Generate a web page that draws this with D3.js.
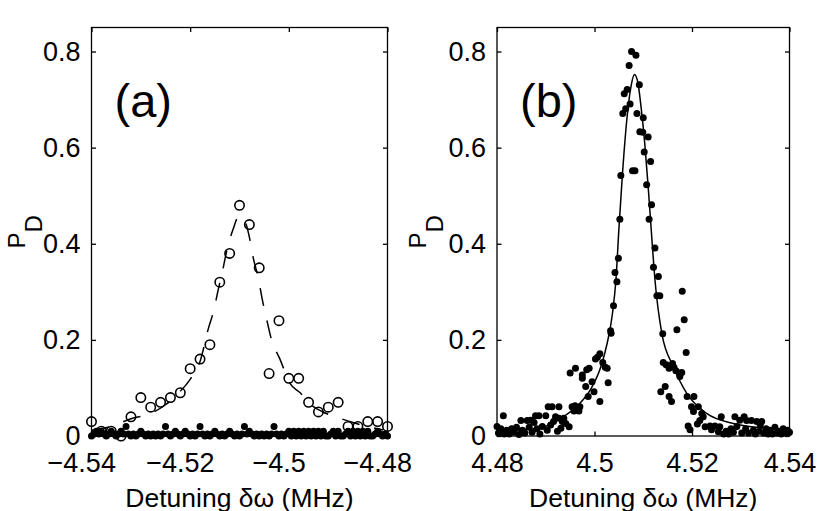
<!DOCTYPE html>
<html>
<head>
<meta charset="utf-8">
<script src="https://cdn.jsdelivr.net/npm/d3@7"></script>
<style>
  html, body { margin: 0; padding: 0; background: #fff; }
  svg text { font-family: "Liberation Sans", Arial, Helvetica, sans-serif; fill: #000; }
</style>
</head>
<body>
<svg id="chart" width="830" height="511"></svg>
<script>
(() => {

// PANEL (a) - open circles (measured)
const aDetuning = [-4.540, -4.538, -4.536, -4.534, -4.532, -4.530, -4.528, -4.526, -4.524, -4.522,
  -4.520, -4.518, -4.516, -4.514, -4.512, -4.510, -4.508, -4.506, -4.504, -4.502,
  -4.500, -4.498, -4.496, -4.494, -4.492, -4.490, -4.488, -4.486, -4.484, -4.482, -4.480];
const aProb = [0.03, 0.01, 0.01, 0.0, 0.04, 0.08, 0.06, 0.07, 0.08, 0.09,
  0.14, 0.16, 0.19, 0.32, 0.38, 0.48, 0.44, 0.35, 0.13, 0.24,
  0.12, 0.12, 0.07, 0.05, 0.06, 0.07, 0.02, 0.02, 0.03, 0.03, 0.02];

// PANEL (a) - filled dots near zero
const aDotDetuning = [
  -4.5400, -4.5395, -4.5390, -4.5385, -4.5380, -4.5375, -4.5370, -4.5365, -4.5360, -4.5355,
  -4.5350, -4.5345, -4.5340, -4.5335, -4.5330, -4.5325, -4.5320, -4.5315, -4.5310, -4.5305,
  -4.5300, -4.5295, -4.5290, -4.5285, -4.5280, -4.5275, -4.5270, -4.5265, -4.5260, -4.5255,
  -4.5250, -4.5245, -4.5240, -4.5235, -4.5230, -4.5225, -4.5220, -4.5215, -4.5210, -4.5205,
  -4.5200, -4.5195, -4.5190, -4.5185, -4.5180, -4.5175, -4.5170, -4.5165, -4.5160, -4.5155,
  -4.5150, -4.5145, -4.5140, -4.5135, -4.5130, -4.5125, -4.5120, -4.5115, -4.5110, -4.5105,
  -4.5100, -4.5095, -4.5090, -4.5085, -4.5080, -4.5075, -4.5070, -4.5065, -4.5060, -4.5055,
  -4.5050, -4.5045, -4.5040, -4.5035, -4.5030, -4.5025, -4.5020, -4.5015, -4.5010, -4.5005,
  -4.5000, -4.4995, -4.4990, -4.4985, -4.4980, -4.4975, -4.4970, -4.4965, -4.4960, -4.4955,
  -4.4950, -4.4945, -4.4940, -4.4935, -4.4930, -4.4925, -4.4920, -4.4915, -4.4910, -4.4905,
  -4.4900, -4.4895, -4.4890, -4.4885, -4.4880, -4.4875, -4.4870, -4.4865, -4.4860, -4.4855,
  -4.4850, -4.4845, -4.4840, -4.4835, -4.4830, -4.4825, -4.4820, -4.4815, -4.4810, -4.4805,
  -4.4800];
const aDotProb = [
  0, 0.004, 0.01, 0.004, 0.01, 0.004, 0, 0.004, 0.01, 0.004,
  0, 0.004, 0.01, 0.004, 0.02, 0.004, 0, 0.004, 0, 0.004,
  0.01, 0.004, 0, 0.004, 0, 0.004, 0, 0.004, 0, 0.004,
  0.02, 0.004, 0, 0.004, 0.01, 0.004, 0, 0.004, 0.01, 0.004,
  0, 0.004, 0, 0.004, 0.02, 0.004, 0, 0.004, 0, 0.004,
  0.01, 0.004, 0, 0.004, 0, 0.004, 0.01, 0.004, 0, 0.004,
  0, 0.004, 0.02, 0.004, 0.01, 0.004, 0, 0.004, 0, 0.004,
  0, 0.004, 0, 0.004, 0.02, 0.004, 0, 0.004, 0, 0.004,
  0.01, 0, 0.01, 0, 0.01, 0, 0.01, 0, 0.01, 0,
  0.01, 0, 0.01, 0, 0.01, 0, 0, 0.004, 0.01, 0,
  0.01, 0, 0, 0.004, 0.01, 0, 0.01, 0, 0.01, 0,
  0.01, 0, 0.01, 0, 0, 0.004, 0.01, 0.004, 0, 0.004,
  0];

// PANEL (a) - dashed fit
const aFitDetuning = [-4.540, -4.536, -4.532, -4.528, -4.525, -4.5224, -4.520, -4.518, -4.5163, -4.5152,
  -4.5143, -4.5134, -4.5126, -4.5113, -4.5103, -4.5095, -4.5088, -4.508, -4.5072, -4.5062,
  -4.5054, -4.5045, -4.5035, -4.5018, -4.4998, -4.4976, -4.4955, -4.4933, -4.4905, -4.487, -4.4809];
const aFitProb = [0.012, 0.02, 0.036, 0.047, 0.065, 0.089, 0.118, 0.155, 0.224, 0.262,
  0.305, 0.345, 0.385, 0.43, 0.455, 0.457, 0.445, 0.414, 0.37, 0.329,
  0.285, 0.243, 0.2, 0.16, 0.11, 0.089, 0.065, 0.051, 0.04, 0.028, 0.0125];

// PANEL (b) - filled dots (measured)
const bDetuning = [4.4800, 4.4803, 4.4808, 4.4813, 4.4815, 4.4820, 4.4825, 4.4830, 4.4835, 4.4840,
  4.4845, 4.4849, 4.4852, 4.4857, 4.4862, 4.4866, 4.4869, 4.4872, 4.4876, 4.4879,
  4.4882, 4.4886, 4.4888, 4.4893, 4.4900, 4.4903, 4.4905, 4.4910, 4.4913, 4.4916,
  4.4920, 4.4924, 4.4927, 4.4927, 4.4931, 4.4934, 4.4937, 4.4941, 4.4948, 4.4950,
  4.4954, 4.4958, 4.4960, 4.4961, 4.4965, 4.4968, 4.4970, 4.4975, 4.4975, 4.4982,
  4.4984, 4.4987, 4.4989, 4.4995, 4.4999, 4.5002, 4.5006, 4.5011, 4.5011, 4.5017,
  4.5022, 4.5026, 4.5028, 4.5033, 4.5034, 4.5039, 4.5042, 4.5046, 4.5049, 4.5052,
  4.5054, 4.5058, 4.5061, 4.5064, 4.5067, 4.5071, 4.5073, 4.5076, 4.5078, 4.5083,
  4.5085, 4.5087, 4.5092, 4.5093, 4.5099, 4.5100, 4.5102, 4.5107, 4.5110, 4.5112,
  4.5115, 4.5117, 4.5121, 4.5124, 4.5128, 4.5131, 4.5134, 4.5136, 4.5140, 4.5141,
  4.5145, 4.5147, 4.5153, 4.5153, 4.5158, 4.5160, 4.5163, 4.5167, 4.5169, 4.5174,
  4.5175, 4.5179, 4.5180, 4.5184, 4.5188, 4.5190, 4.5192, 4.5196, 4.5199, 4.5203,
  4.5204, 4.5211, 4.5213, 4.5216, 4.5220, 4.5223, 4.5227, 4.5237, 4.5240, 4.5247,
  4.5254, 4.5257, 4.5260, 4.5265, 4.5270, 4.5275, 4.5280, 4.5285, 4.5288, 4.5292,
  4.5298, 4.5302, 4.5307, 4.5310, 4.5312, 4.5316, 4.5322, 4.5326, 4.5330, 4.5333,
  4.5338, 4.5340, 4.5343, 4.5347, 4.5352, 4.5356, 4.5360, 4.5365, 4.5370, 4.5374,
  4.5378, 4.5383, 4.5387, 4.5392, 4.5396, 4.5400];
const bProb = [0.020, 0.006, 0.015, 0.042, 0.004, 0.012, 0.004, 0.015, 0.008, 0.018,
  0.003, 0.032, 0.012, 0.006, 0.032, 0.018, 0.033, 0.008, 0.028, 0.042,
  0.015, 0.042, 0.004, 0.020, 0.042, 0.012, 0.061, 0.023, 0.061, 0.030,
  0.040, 0.010, 0.061, 0.037, 0.016, 0.030, 0.037, 0.026, 0.019, 0.131,
  0.061, 0.052, 0.063, 0.141, 0.054, 0.052, 0.061, 0.127, 0.120, 0.103,
  0.138, 0.082, 0.141, 0.113, 0.092, 0.160, 0.164, 0.171, 0.072, 0.153,
  0.143, 0.141, 0.111, 0.219, 0.214, 0.271, 0.340, 0.321, 0.370, 0.451,
  0.542, 0.671, 0.712, 0.681, 0.721, 0.771, 0.691, 0.800, 0.552, 0.552,
  0.792, 0.671, 0.731, 0.633, 0.632, 0.662, 0.591, 0.523, 0.622, 0.451,
  0.571, 0.481, 0.351, 0.391, 0.292, 0.332, 0.292, 0.092, 0.213, 0.153,
  0.103, 0.148, 0.141, 0.082, 0.072, 0.151, 0.143, 0.136, 0.221, 0.131,
  0.124, 0.132, 0.301, 0.242, 0.174, 0.082, 0.021, 0.013, 0.061, 0.051,
  0.082, 0.025, 0.061, 0.032, 0.047, 0.040, 0.019, 0.021, 0.013, 0.021,
  0.009, 0.019, 0.040, 0.004, 0.010, 0.004, 0.015, 0.008, 0.040, 0.020,
  0.033, 0.006, 0.040, 0.015, 0.032, 0.006, 0.032, 0.012, 0.004, 0.030,
  0.010, 0.023, 0.030, 0.006, 0.015, 0.004, 0.012, 0.004, 0.018, 0.006,
  0.010, 0.004, 0.015, 0.006, 0.012, 0.008];

// PANEL (b) - solid fit
const bFitDetuning = [4.480, 4.485, 4.4896, 4.4931, 4.4965, 4.4992, 4.5013, 4.5026, 4.5037, 4.5044,
  4.5050, 4.5057, 4.5066, 4.5075, 4.5082, 4.5089, 4.5096, 4.5103, 4.5110, 4.5117,
  4.5124, 4.5138, 4.5162, 4.5189, 4.523, 4.5285, 4.534, 4.540];
const bFitProb = [0.010, 0.013, 0.019, 0.037, 0.063, 0.097, 0.144, 0.193, 0.256, 0.325,
  0.43, 0.54, 0.655, 0.728, 0.752, 0.735, 0.68, 0.61, 0.52, 0.42,
  0.325, 0.214, 0.144, 0.089, 0.047, 0.026, 0.017, 0.012];

// TICKS / LABELS
const aTicks = [-4.54, -4.52, -4.5, -4.48];
const bTicks = [4.48, 4.5, 4.52, 4.54];
const yTicks = [0, 0.2, 0.4, 0.6, 0.8];
const xTitle = "Detuning δω (MHz)";

const svg = d3.select("#chart");
const top = 27.5, bottom = 436;
const y = d3.scaleLinear().domain([0, 0.85]).range([bottom, top]);

const fmtX = d => String(d).replace("-", "\u2212");
const fmtY = d => d === 0 ? "0" : d3.format(".1f")(d);

function panel(opt) {
  const x = d3.scaleLinear().domain(opt.domain).range([opt.left, opt.right]);
  const g = svg.append("g");

  // box
  g.append("rect")
    .attr("x", opt.left).attr("y", top)
    .attr("width", opt.right - opt.left).attr("height", bottom - top)
    .attr("fill", "none").attr("stroke", "#000").attr("stroke-width", 1.3);

  const style = sel => {
    sel.attr("font-size", null).attr("font-family", null);
    sel.select(".domain").remove();
    sel.selectAll(".tick line").attr("stroke-width", 1.3);
    sel.selectAll(".tick text").attr("font-size", 27);
  };

  g.append("g").attr("transform", `translate(0,${bottom})`)
    .call(d3.axisBottom(x).tickValues(opt.ticks).tickFormat(fmtX).tickSize(-4.5).tickPadding(17))
    .call(style)
    .selectAll(".tick text").attr("dx", d => d < 0 ? "-0.38em" : null);
  g.append("g").attr("transform", `translate(0,${top})`)
    .call(d3.axisTop(x).tickValues(opt.ticks).tickFormat("").tickSize(-4.5))
    .call(style);
  g.append("g").attr("transform", `translate(${opt.left},0)`)
    .call(d3.axisLeft(y).tickValues(yTicks).tickFormat(fmtY).tickSize(-4.5).tickPadding(11))
    .call(style);
  g.append("g").attr("transform", `translate(${opt.right},0)`)
    .call(d3.axisRight(y).tickValues(yTicks).tickFormat("").tickSize(-4.5))
    .call(style);

  // filled dots
  g.append("g").selectAll("circle")
    .data(d3.zip(opt.dotX, opt.dotY))
    .join("circle")
    .attr("cx", d => x(d[0])).attr("cy", d => y(d[1]))
    .attr("r", 3.5).attr("fill", "#000");

  // open circles
  if (opt.openX) {
    g.append("g").selectAll("circle")
      .data(d3.zip(opt.openX, opt.openY))
      .join("circle")
      .attr("cx", d => x(d[0])).attr("cy", d => y(d[1]))
      .attr("r", 4.7).attr("fill", "none")
      .attr("stroke", "#000").attr("stroke-width", 1.6);
  }

  // fit line
  const line = d3.line().x(d => x(d[0])).y(d => y(d[1])).curve(d3.curveMonotoneX);
  g.append("path")
    .datum(d3.zip(opt.fitX, opt.fitY))
    .attr("d", line)
    .attr("fill", "none").attr("stroke", "#000").attr("stroke-width", 1.5)
    .attr("stroke-dasharray", opt.dash || null);

  // panel tag
  g.append("text")
    .attr("x", opt.left + 23).attr("y", 117)
    .attr("font-size", 47)
    .text(opt.tag);

  // y label P_D
  const yl = g.append("text")
    .attr("transform", `translate(${opt.ylabX},${(top + bottom) / 2}) rotate(-90)`)
    .attr("text-anchor", "middle")
    .attr("font-size", 24);
  yl.append("tspan").text("P");
  yl.append("tspan").attr("dy", 17).text("D");

  // x title
  g.append("text")
    .attr("x", (opt.left + opt.right) / 2).attr("y", 507)
    .attr("text-anchor", "middle")
    .attr("font-size", 26.5)
    .text(xTitle);
}

panel({
  domain: [-4.54, -4.48], left: 91.5, right: 387.5, ticks: aTicks,
  dotX: aDotDetuning, dotY: aDotProb,
  openX: aDetuning, openY: aProb,
  fitX: aFitDetuning, fitY: aFitProb, dash: "18,15",
  tag: "(a)", ylabX: 25
});

panel({
  domain: [4.48, 4.54], left: 497, right: 789.5, ticks: bTicks,
  dotX: bDetuning, dotY: bProb,
  fitX: bFitDetuning, fitY: bFitProb,
  tag: "(b)", ylabX: 426
});

})();
</script>
</body>
</html>
